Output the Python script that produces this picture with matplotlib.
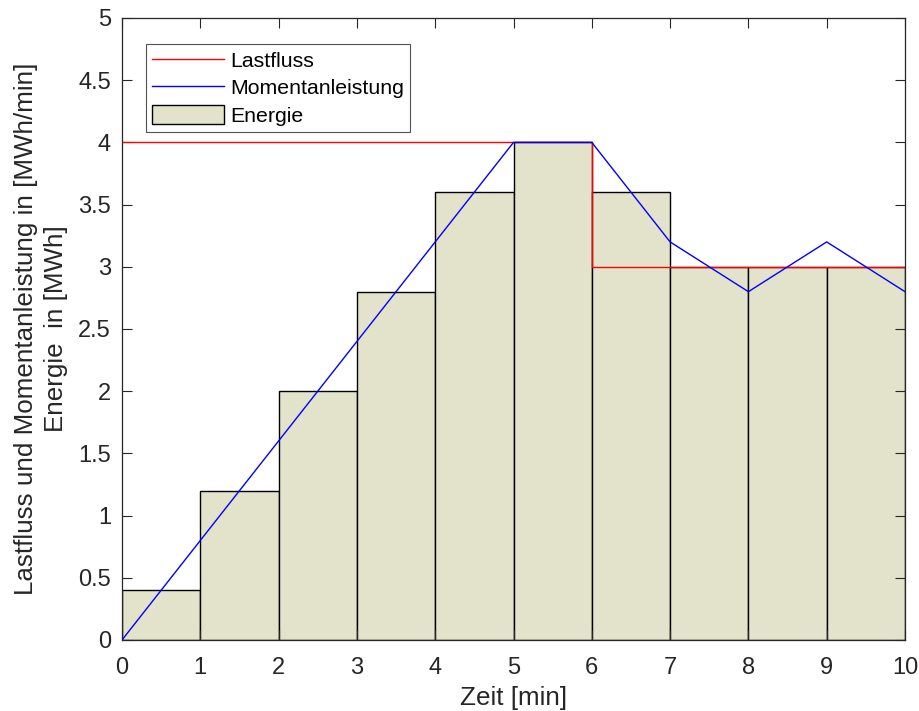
import matplotlib
matplotlib.use("Agg")
import matplotlib.pyplot as plt
import numpy as np

plt.rcParams['font.family'] = ['Liberation Sans', 'DejaVu Sans']

# Energie je Minute (Balken, zentriert auf den Minutenintervallen)
minuten = [0.5, 1.5, 2.5, 3.5, 4.5, 5.5, 6.5, 7.5, 8.5, 9.5]
energie = [0.4, 1.2, 2.0, 2.8, 3.6, 4.0, 3.6, 3.0, 3.0, 3.0]

# Momentanleistung an den Minutengrenzen
zeit_punkte = [0, 1, 2, 3, 4, 5, 6, 7, 8, 9, 10]
momentanleistung = [0, 0.8, 1.6, 2.4, 3.2, 4.0, 4.0, 3.2, 2.8, 3.2, 2.8]

# Lastfluss als Treppenfunktion
lastfluss_zeit = [0, 6, 6, 10]
lastfluss = [4, 4, 3, 3]

x_ticks = list(range(0, 11))
y_ticks = [0, 0.5, 1, 1.5, 2, 2.5, 3, 3.5, 4, 4.5, 5]
y_tick_labels = ['0', '0.5', '1', '1.5', '2', '2.5', '3', '3.5', '4', '4.5', '5']

fig = plt.figure(figsize=(9.19, 7.11), dpi=100)
ax = fig.add_axes([122 / 919, 71 / 711, (905 - 122) / 919, (640 - 18) / 711])

bars = ax.bar(minuten, energie, width=1.0, color='#e3e3cc', edgecolor='black',
              linewidth=1.0, zorder=1, label='Energie')
l1, = ax.plot(lastfluss_zeit, lastfluss, color='#ff0000', linewidth=1.0,
              zorder=2, label='Lastfluss')
l2, = ax.plot(zeit_punkte, momentanleistung, color='#0000ff', linewidth=1.0,
              zorder=3, label='Momentanleistung')

ax.set_xlim(0, 10)
ax.set_ylim(0, 5)
ax.set_xticks(x_ticks)
ax.set_yticks(y_ticks)
ax.set_yticklabels(y_tick_labels)
ax.tick_params(direction='in', top=True, right=True, length=7, width=0.8,
               labelsize=17, colors='#262626')
ax.tick_params(axis='x', pad=12.5)
ax.tick_params(axis='y', pad=8)
for s in ax.spines.values():
    s.set_linewidth(0.9)
    s.set_color('#262626')

ax.set_xlabel('Zeit [min]', fontsize=18.7, color='#262626', labelpad=5)
ax.set_ylabel('Lastfluss und Momentanleistung in [MWh/min]\nEnergie  in [MWh]',
              fontsize=18.7, color='#262626', labelpad=7, linespacing=1.35)

leg = ax.legend(handles=[l1, l2, bars], loc='upper left',
                bbox_to_anchor=(0.0307, 0.958), fontsize=15.3, frameon=True,
                fancybox=False, edgecolor='#262626', handlelength=3.35,
                handleheight=1.0, borderpad=0.3, labelspacing=0.3,
                handletextpad=0.3, borderaxespad=0)
leg.get_frame().set_linewidth(0.8)

fig.savefig('out.png', dpi=100)
